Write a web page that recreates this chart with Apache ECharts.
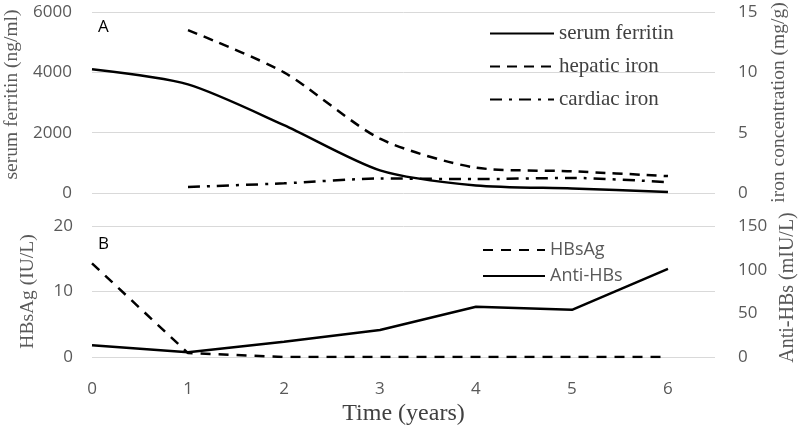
<!DOCTYPE html>
<html><head><meta charset="utf-8">
<script src="https://cdn.jsdelivr.net/npm/echarts@6/dist/echarts.min.js"></script>
<style>html,body{margin:0;padding:0;background:#fff}#c{width:800px;height:428px}</style>
</head><body><div id="c"></div>
<script>
const years = [0, 1, 2, 3, 4, 5, 6];
const serumFerritin = [4100, 3600, 2250, 750, 250, 150, 30];
const hepaticIron = [null, 13.5, 10.0, 4.5, 2.1, 1.8, 1.4];
const cardiacIron = [null, 0.5, 0.8, 1.2, 1.15, 1.25, 0.9];
const hbsAg = [14.3, 0.6, 0, 0, 0, 0, 0];
const antiHBs = [13.5, 5.5, 17.5, 31, 57.5, 54, 101];

const pairs = arr => years.map((x, i) => [x, arr[i]]);
const serif = 'Liberation Serif';
const sans = 'Open Sans';
const tickColor = '#595959';
const gridColor = '#d9d9d9';
const tickSize = 17;
const plain = v => String(v);

const chart = echarts.init(document.getElementById('c'));
const xBase = {
  type: 'value', min: 0, max: 6.49, interval: 1,
  axisLine: {show: false}, axisTick: {show: false}, splitLine: {show: false}
};
chart.setOption({
  animation: false,
  grid: [
    {left: 92, right: 85, top: 12, height: 181, outerBoundsMode: 'none', containLabel: false},
    {left: 92, right: 85, top: 226, height: 131, outerBoundsMode: 'none', containLabel: false}
  ],
  xAxis: [
    Object.assign({}, xBase, {gridIndex: 0, axisLabel: {show: false}}),
    Object.assign({}, xBase, {gridIndex: 1,
      axisLabel: {margin: 24, fontFamily: sans, fontSize: tickSize, color: tickColor,
        formatter: v => (Number.isInteger(v) ? String(v) : '')},
      name: 'Time (years)', nameLocation: 'middle', nameGap: 45,
      nameTextStyle: {fontFamily: serif, fontSize: 24, color: '#404040'}})
  ],
  yAxis: [
    {type: 'value', gridIndex: 0, min: 0, max: 6000, interval: 2000, position: 'left',
      axisLine: {show: false}, axisTick: {show: false},
      splitLine: {lineStyle: {color: gridColor, width: 1}},
      axisLabel: {margin: 20, fontFamily: sans, fontSize: tickSize, color: tickColor, formatter: plain},
      name: 'serum ferritin (ng/ml)', nameLocation: 'middle', nameGap: 69,
      nameTextStyle: {fontFamily: serif, fontSize: 19.5, color: tickColor, padding: [0, 0, 0, 16]}},
    {type: 'value', gridIndex: 0, min: 0, max: 15, interval: 5, position: 'right',
      axisLine: {show: false}, axisTick: {show: false}, splitLine: {show: false},
      axisLabel: {margin: 23, fontFamily: sans, fontSize: tickSize, color: tickColor, formatter: plain},
      name: 'iron concentration (mg/g)', nameLocation: 'middle', nameGap: 54,
      nameTextStyle: {fontFamily: serif, fontSize: 19.5, color: tickColor}},
    {type: 'value', gridIndex: 1, min: 0, max: 20, interval: 10, position: 'left',
      axisLine: {show: false}, axisTick: {show: false},
      splitLine: {lineStyle: {color: gridColor, width: 1}},
      axisLabel: {margin: 19, fontFamily: sans, fontSize: tickSize, color: tickColor, formatter: plain},
      name: 'HBsAg (IU/L)', nameLocation: 'middle', nameGap: 54,
      nameTextStyle: {fontFamily: serif, fontSize: 19.5, color: tickColor}},
    {type: 'value', gridIndex: 1, min: 0, max: 150, interval: 50, position: 'right',
      axisLine: {show: false}, axisTick: {show: false}, splitLine: {show: false},
      axisLabel: {margin: 23, fontFamily: sans, fontSize: tickSize, color: tickColor, formatter: plain},
      name: 'Anti-HBs (mIU/L)', nameLocation: 'middle', nameGap: 60,
      nameTextStyle: {fontFamily: serif, fontSize: 20, color: tickColor, padding: [0, 0, 0, 8]}}
  ],
  legend: [
    {left: 484, top: 18, orient: 'vertical', itemWidth: 64, itemHeight: 16, itemGap: 12,
      data: ['serum ferritin', 'hepatic iron', 'cardiac iron'],
      itemStyle: {opacity: 0},
      textStyle: {fontFamily: serif, fontSize: 21, color: '#404040'}},
    {left: 477, top: 236, orient: 'vertical', itemWidth: 62, itemHeight: 16, itemGap: 8,
      data: ['HBsAg', 'Anti-HBs'],
      itemStyle: {opacity: 0},
      textStyle: {fontFamily: sans, fontSize: 18, color: '#595959'}}
  ],
  graphic: [
    {type: 'text', left: 98, top: 19, style: {text: 'A', font: '17px "Open Sans"', fill: '#000'}},
    {type: 'text', left: 98, top: 236, style: {text: 'B', font: '17px "Open Sans"', fill: '#000'}}
  ],
  series: [
    {name: 'serum ferritin', type: 'line', xAxisIndex: 0, yAxisIndex: 0, data: pairs(serumFerritin),
      symbol: 'none', smooth: 0.25, lineStyle: {color: '#000', width: 2.5}, itemStyle: {color: '#000'}},
    {name: 'hepatic iron', type: 'line', xAxisIndex: 0, yAxisIndex: 1, data: pairs(hepaticIron),
      symbol: 'none', smooth: 0.25, lineStyle: {color: '#000', width: 2.5, type: [10, 7]}, itemStyle: {color: '#000'}},
    {name: 'cardiac iron', type: 'line', xAxisIndex: 0, yAxisIndex: 1, data: pairs(cardiacIron),
      symbol: 'none', smooth: 0.25, lineStyle: {color: '#000', width: 2.5, type: [12, 7, 3, 7]}, itemStyle: {color: '#000'}},
    {name: 'HBsAg', type: 'line', xAxisIndex: 1, yAxisIndex: 2, data: pairs(hbsAg),
      symbol: 'none', lineStyle: {color: '#000', width: 2.5, type: [10, 8]}, itemStyle: {color: '#000'}},
    {name: 'Anti-HBs', type: 'line', xAxisIndex: 1, yAxisIndex: 3, data: pairs(antiHBs),
      symbol: 'none', lineStyle: {color: '#000', width: 2.5}, itemStyle: {color: '#000'}}
  ]
});
</script></body></html>
